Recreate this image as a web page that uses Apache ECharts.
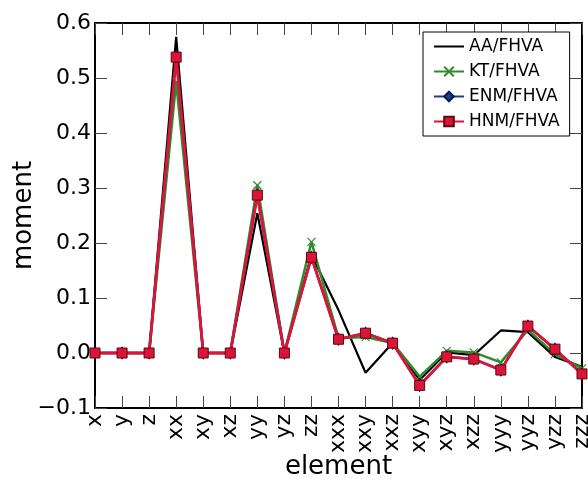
<!DOCTYPE html>
<html><head><meta charset="utf-8">
<script src="https://cdn.jsdelivr.net/npm/echarts@6/dist/echarts.min.js"></script>
<style>html,body{margin:0;padding:0;background:#fff}#c{width:588px;height:481px}</style>
</head><body><div id="c"></div>
<script>
var categories = ['x','y','z','xx','xy','xz','yy','yz','zz','xxx','xxy','xxz','xyy','xyz','xzz','yyy','yyz','yzz','zzz'];
var aa  = [0,0,0,0.575,0,0,0.254,0,0.178,0.078,-0.036,0.018,-0.049,0.001,-0.004,0.041,0.038,-0.007,-0.025];
var kt  = [0,0,0,0.493,0,0,0.305,0,0.202,0.027,0.029,0.018,-0.043,0.004,0.001,-0.017,0.042,-0.002,-0.028];
var enm = [0,0,0,0.538,0,0,0.287,0,0.174,0.025,0.036,0.018,-0.059,-0.007,-0.011,-0.031,0.049,0.007,-0.038];
var hnm = [0,0,0,0.538,0,0,0.287,0,0.174,0.025,0.036,0.018,-0.059,-0.007,-0.011,-0.031,0.049,0.007,-0.038];
var seriesNames = ['AA/FHVA','KT/FHVA','ENM/FHVA','HNM/FHVA'];
var yMin = -0.1, yMax = 0.6, yStep = 0.1;

var font = 'DejaVu Sans';
var chart = echarts.init(document.getElementById('c'));
var tickStyle = {show:true, inside:true, length:12, lineStyle:{color:'#444', width:1}};
var axisLine = {show:true, onZero:false, lineStyle:{color:'#000', width:2}};
chart.setOption({
  animation:false,
  backgroundColor:'#fff',
  grid:{left:95, right:6, top:23, bottom:73, containLabel:false, outerBoundsMode:'none'},
  legend:{
    orient:'vertical', left:423, top:32,
    data:[
      {name:seriesNames[0], icon:'path://M0,9H30V11H0Z'},
      seriesNames[1], seriesNames[2], seriesNames[3]
    ],
    itemWidth:30, itemHeight:12, itemGap:8,
    padding:[6,10,6,10],
    borderColor:'#000', borderWidth:1, borderRadius:0,
    backgroundColor:'#fff',
    textStyle:{fontFamily:font, fontSize:17, color:'#000'}
  },
  xAxis:[{
    type:'category', data:categories, boundaryGap:false,
    name:'element', nameLocation:'middle', nameGap:46, nameMoveOverlap:false,
    nameTextStyle:{fontFamily:font, fontSize:26, color:'#000'},
    axisLine:axisLine, axisTick:Object.assign({alignWithLabel:true}, tickStyle),
    axisLabel:{rotate:90, interval:0, margin:6, fontFamily:font, fontSize:22, color:'#000'},
    splitLine:{show:false}
  },{
    type:'category', data:categories, boundaryGap:false, position:'top',
    axisLine:axisLine, axisTick:tickStyle, axisLabel:{show:false}, splitLine:{show:false}
  }],
  yAxis:[{
    type:'value', min:yMin, max:yMax, interval:yStep,
    name:'moment', nameLocation:'middle', nameGap:58, nameRotate:90, nameMoveOverlap:false,
    nameTextStyle:{fontFamily:font, fontSize:26, color:'#000'},
    axisLine:axisLine, axisTick:tickStyle,
    axisLabel:{margin:4, fontFamily:font, fontSize:22, color:'#000',
      formatter:function(v){var s=Math.abs(v).toFixed(1); return (v< -1e-9?'\u2212':'')+s;}},
    splitLine:{show:false}
  },{
    type:'value', min:yMin, max:yMax, interval:yStep, position:'right',
    axisLine:axisLine, axisTick:tickStyle, axisLabel:{show:false}, splitLine:{show:false}
  }],
  series:[
    {name:seriesNames[0], type:'line', data:aa, symbol:'none', z:2,
     lineStyle:{color:'#000', width:2.2}, itemStyle:{color:'#000'}},
    {name:seriesNames[1], type:'line', data:kt, z:3,
     symbol:'path://M0,0L10,10M10,0L0,10', symbolSize:8,
     lineStyle:{color:'#2e8b2e', width:2.5},
     itemStyle:{color:'rgba(0,0,0,0)', borderColor:'#2e8b2e', borderWidth:1.2}},
    {name:seriesNames[2], type:'line', data:enm, z:4,
     symbol:'diamond', symbolSize:[8,12],
     lineStyle:{color:'#1f3c8a', width:2.5},
     itemStyle:{color:'#1f3c8a', borderColor:'#0a1a50', borderWidth:1}},
    {name:seriesNames[3], type:'line', data:hnm, z:5,
     symbol:'rect', symbolSize:10,
     lineStyle:{color:'#dc1438', width:2.8},
     itemStyle:{color:'#dc1438', borderColor:'#5a0a14', borderWidth:1}}
  ]
});
</script></body></html>
